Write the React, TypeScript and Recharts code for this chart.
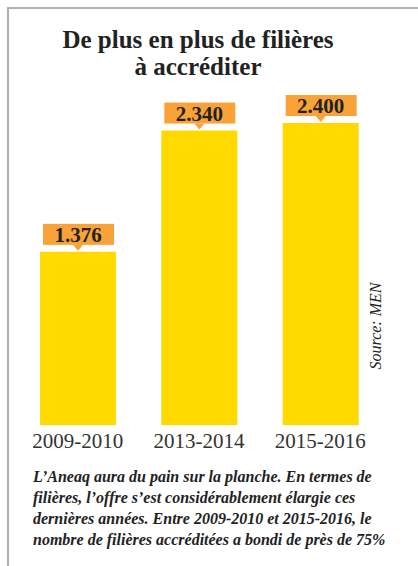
import React from "react";
import { BarChart, Bar, XAxis, YAxis, LabelList } from "recharts";

const periods = ["2009-2010", "2013-2014", "2015-2016"];
const filieres = [1376, 2340, 2400];

const captionLines = [
  "L’Aneaq aura du pain sur la planche. En termes de",
  "filières, l’offre s’est considérablement élargie ces",
  "dernières années. Entre 2009-2010 et 2015-2016, le",
  "nombre de filières accréditées a bondi de près de 75%",
];

const SERIF = "'Liberation Serif', 'DejaVu Serif', serif";
const YELLOW = "#FFD900";
const ORANGE = "#F8A238";

const chartData = periods.map((p, i) => ({ name: p, value: filieres[i] }));

const fmt = (v: number) => {
  const s = String(v);
  return s.length > 3 ? s.slice(0, s.length - 3) + "." + s.slice(-3) : s;
};

const ValueTag = (props: any) => {
  const { x, y, width, value } = props;
  const bx = x + 3;
  const bw = width - 5;
  const bh = 21;
  const by = y - 28;
  const cx = x + width / 2;
  return (
    <g>
      <rect x={bx} y={by} width={bw} height={bh} fill={ORANGE} />
      <polygon
        points={`${cx - 5},${by + bh} ${cx + 5},${by + bh} ${cx},${by + bh + 6}`}
        fill={ORANGE}
      />
      <text
        x={cx}
        y={by + bh - 3}
        textAnchor="middle"
        fontFamily={SERIF}
        fontWeight="bold"
        fontSize={21}
        fill="#222"
      >
        {fmt(value)}
      </text>
    </g>
  );
};

export default function App() {
  return (
    <div
      style={{
        position: "absolute",
        left: 0,
        top: 0,
        width: 418,
        height: 566,
        background: "#fff",
        overflow: "hidden",
        fontFamily: SERIF,
      }}
    >
      {/* frame */}
      <div style={{ position: "absolute", left: 7, top: 7, width: 411, height: 2, background: "#b0b0b0" }} />
      <div style={{ position: "absolute", left: 7, top: 7, width: 2, height: 559, background: "#b0b0b0" }} />

      <div
        style={{
          position: "absolute",
          left: 0,
          top: 26,
          width: 396,
          textAlign: "center",
          fontSize: 25,
          fontWeight: "bold",
          lineHeight: "27px",
          color: "#222",
        }}
      >
        De plus en plus de filières
        <br />
        à accréditer
      </div>

      <div style={{ position: "absolute", left: 0, top: 0 }}>
        <BarChart
          width={418}
          height={566}
          data={chartData}
          margin={{ top: 123, right: 37, left: 17, bottom: 111 }}
        >
          <XAxis
            dataKey="name"
            axisLine={false}
            tickLine={false}
            interval={0}
            height={30}
            tick={{ fontSize: 21, fill: "#333", fontFamily: SERIF }}
          />
          <YAxis hide domain={[0, 2400]} />
          <Bar dataKey="value" fill={YELLOW} barSize={76} isAnimationActive={false}>
            <LabelList dataKey="value" content={ValueTag} />
          </Bar>
        </BarChart>
      </div>

      <div
        style={{
          position: "absolute",
          left: 376,
          top: 326,
          transform: "translate(-50%, -50%) rotate(-90deg)",
          fontStyle: "italic",
          fontSize: 16,
          color: "#222",
          whiteSpace: "nowrap",
        }}
      >
        Source: MEN
      </div>

      <div
        style={{
          position: "absolute",
          left: 33,
          top: 466,
          fontStyle: "italic",
          fontWeight: "bold",
          fontSize: 16,
          lineHeight: "21px",
          color: "#222",
          whiteSpace: "nowrap",
        }}
      >
        {captionLines.map((l) => (
          <div key={l}>{l}</div>
        ))}
      </div>
    </div>
  );
}
